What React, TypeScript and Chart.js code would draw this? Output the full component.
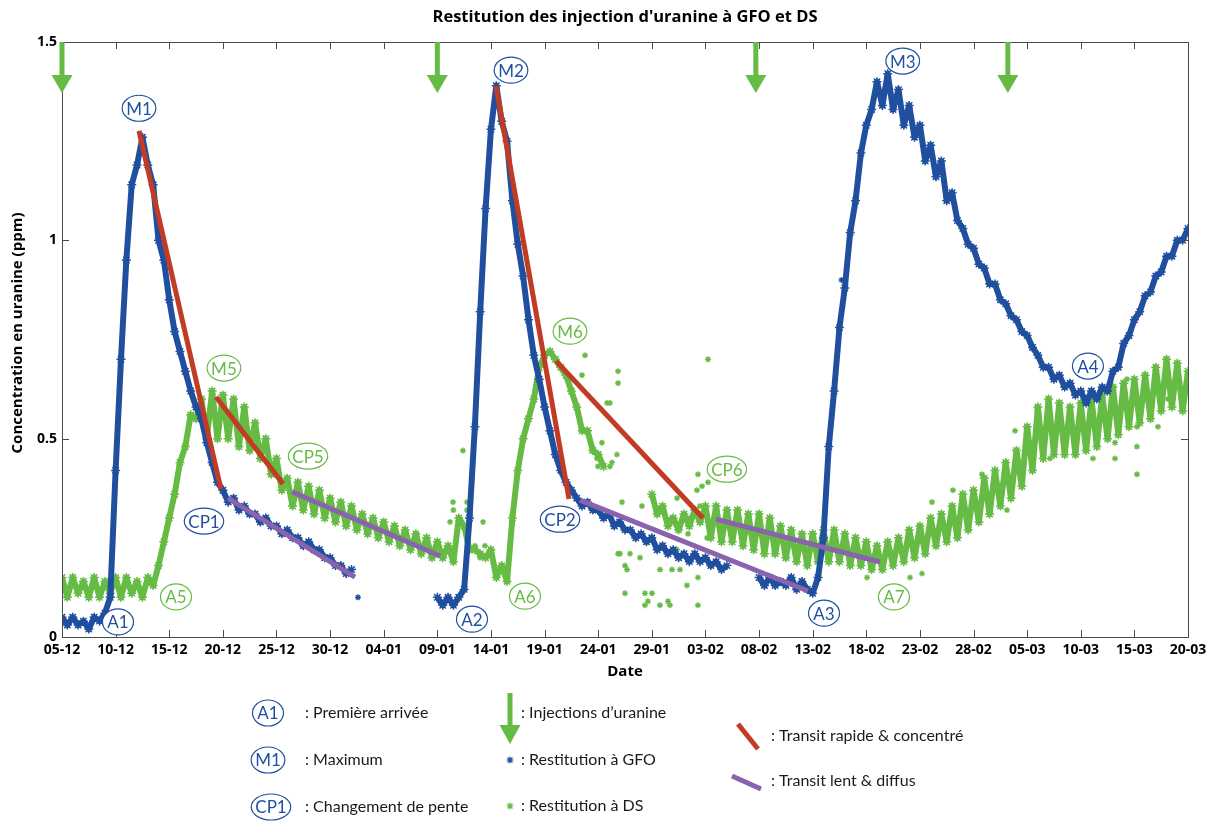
import React, { useEffect, useRef } from 'react';
import { Chart, registerables } from 'chart.js';
Chart.register(...registerables);

// ---------- data ----------
const xTickLabels = ['05-12','10-12','15-12','20-12','25-12','30-12','04-01','09-01','14-01','19-01','24-01','29-01','03-02','08-02','13-02','18-02','23-02','28-02','05-03','10-03','15-03','20-03'];
const yTickLabels = ['0', '0.5', '1', '1.5'];

// GFO readings: value at each day (from 05-12) and half a day later
const gfoDay = [0.05,0.05,0.04,0.05,0.06,0.42,0.95,1.19,1.19,1.00,0.85,0.72,0.62,0.55,0.44,0.37,0.35,0.33,0.31,0.30,0.28,0.27,0.25,0.24,0.22,0.20,0.18,0.17,null,null,null,null,null,null,null,0.10,0.10,0.10,0.30,0.82,1.28,1.30,1.10,0.91,0.71,0.58,0.46,0.39,0.35,0.34,0.32,0.31,0.29,0.27,0.26,0.25,0.23,0.22,0.21,0.21,0.20,0.19,0.18,null,null,0.15,0.15,0.14,0.15,0.14,0.11,0.25,0.62,0.88,1.10,1.29,1.40,1.42,1.38,1.34,1.29,1.24,1.20,1.12,1.03,0.98,0.93,0.89,0.84,0.80,0.76,0.71,0.68,0.66,0.64,0.62,0.62,0.63,0.67,0.74,0.80,0.86,0.91,0.96,1.00,1.03];
const gfoHalf = [0.03,0.03,0.02,0.04,0.10,0.70,1.14,1.26,1.14,0.95,0.77,0.67,0.58,0.49,0.39,0.34,0.32,0.31,0.29,0.28,0.26,0.25,0.23,0.22,0.20,0.18,0.16,null,null,null,null,null,null,null,null,0.08,0.08,0.12,0.53,1.08,1.39,1.25,0.99,0.80,0.65,0.52,0.42,0.37,0.33,0.32,0.30,0.28,0.27,0.25,0.24,0.22,0.21,0.20,0.19,0.19,0.18,0.17,null,null,null,0.13,0.13,0.13,0.12,0.12,0.15,0.48,0.78,1.02,1.22,1.33,1.34,1.33,1.29,1.26,1.20,1.16,1.10,1.05,0.99,0.94,0.89,0.85,0.81,0.77,0.73,0.68,0.65,0.63,0.61,0.59,0.60,0.62,0.68,0.76,0.82,0.87,0.92,0.96,1.00,null];
const gfoStray = [[27.6, 0.10], [72.7, 0.90]];

// DS readings: value at each day and half a day later
const dsDay = [0.15,0.15,0.14,0.15,0.14,0.15,0.15,0.14,0.15,0.18,0.30,0.44,0.56,0.60,0.62,0.61,0.60,0.58,0.54,0.50,0.45,0.40,0.39,0.38,0.37,0.35,0.34,0.33,0.31,0.30,0.29,0.28,0.27,0.26,0.25,0.24,0.23,0.30,0.22,0.21,0.22,0.18,0.30,0.50,0.60,0.71,0.70,0.66,0.58,0.52,0.46,null,null,null,null,0.36,0.33,0.30,0.31,0.32,0.33,0.33,0.32,0.32,0.31,0.31,0.30,0.28,0.27,0.26,0.26,0.27,0.27,0.26,0.25,0.24,0.23,0.24,0.25,0.27,0.28,0.30,0.31,0.33,0.36,0.37,0.40,0.42,0.44,0.47,0.53,0.58,0.60,0.59,0.58,0.59,0.60,0.61,0.63,0.64,0.65,0.66,0.68,0.70,0.69,0.67];
const dsHalf = [0.10,0.11,0.10,0.10,0.11,0.10,0.11,0.10,0.13,0.24,0.36,0.48,0.55,0.50,0.50,0.50,0.48,0.47,0.45,0.41,0.37,0.33,0.32,0.31,0.30,0.29,0.28,0.27,0.26,0.25,0.24,0.23,0.22,0.21,0.20,0.20,0.19,0.28,0.22,0.20,0.15,0.14,0.42,0.55,0.68,0.72,0.68,0.62,0.52,0.47,0.43,null,null,null,null,0.31,0.28,0.27,0.28,0.29,0.25,0.24,0.24,0.23,0.22,0.21,0.21,0.20,0.19,0.18,0.19,0.19,0.19,0.18,0.18,0.17,0.17,0.18,0.19,0.20,0.21,0.23,0.24,0.25,0.27,0.29,0.31,0.33,0.35,0.38,0.42,0.45,0.46,0.46,0.46,0.47,0.48,0.50,0.51,0.53,0.54,0.55,0.57,0.58,0.57,null];
const dsStray = [
  [37.39,0.47],[36.46,0.34],[36.5,0.32],[37.77,0.34],[37.77,0.32],[36.18,0.29],[39.26,0.29],[38.51,0.23],[39.44,0.23],[38.98,0.20],
  [48.77,0.71],[48.49,0.66],[50.82,0.59],[50.35,0.49],[49.42,0.47],[49.89,0.45],[51.29,0.44],[49.98,0.43],[51.85,0.67],[51.85,0.64],
  [51.85,0.21],[51.1,0.59],[51.75,0.46],[51.1,0.43],[52.22,0.34],[54.08,0.33],[52.03,0.21],[52.97,0.21],[53.9,0.20],[52.5,0.18],
  [52.69,0.17],[52.5,0.11],[54.36,0.11],[55.02,0.11],[54.64,0.09],[54.36,0.08],[55.76,0.08],[56.51,0.09],[56.69,0.08],[59.3,0.08],
  [58.28,0.13],[59.3,0.15],[56.88,0.17],[55.76,0.17],[57.63,0.17],[55.95,0.23],[57.35,0.22],[58.37,0.26],[59.3,0.41],[59.21,0.37],
  [59.68,0.38],[60.24,0.39],[60.24,0.70],[59.49,0.33],[57.35,0.35],[56.88,0.30],[58.56,0.30],[60.15,0.25],
  [81.13,0.34],[83.08,0.37],[75.07,0.15],[79.08,0.15],[80.19,0.16],[85.79,0.41],[88.87,0.52],[88.12,0.32],[92.13,0.45],[96.14,0.45],
  [98.19,0.45],[98.19,0.49],[100.24,0.48],[100.24,0.53],[100.24,0.41],[102.2,0.53],[103.13,0.60],[99.31,0.65]
];

// trend segments [day1, value1, day2, value2]
const rapidSegments = [[7.18,1.276,14.82,0.373],[14.36,0.605,20.61,0.386],[40.47,1.389,47.28,0.348],[46.07,0.696,59.77,0.30]];
const slowSegments = [[15.48,0.35,27.32,0.151],[21.45,0.366,35.25,0.204],[48.30,0.345,69.56,0.116],[60.99,0.297,76.28,0.189]];

const injectionDays = [0, 35, 64.7, 88.2];

const markers = [
  { text: 'M1', day: 7.18, value: 1.333, s: 'gfo' },
  { text: 'A1', day: 5.22, value: 0.038, s: 'gfo' },
  { text: 'M5', day: 15.1, value: 0.678, s: 'ds' },
  { text: 'CP1', day: 13.24, value: 0.292, s: 'gfo' },
  { text: 'A5', day: 10.63, value: 0.101, s: 'ds' },
  { text: 'CP5', day: 22.94, value: 0.456, s: 'ds' },
  { text: 'A2', day: 38.23, value: 0.045, s: 'gfo' },
  { text: 'M2', day: 41.87, value: 1.429, s: 'gfo' },
  { text: 'M6', day: 47.37, value: 0.771, s: 'ds' },
  { text: 'CP2', day: 46.44, value: 0.297, s: 'gfo' },
  { text: 'A6', day: 43.17, value: 0.103, s: 'ds' },
  { text: 'CP6', day: 62.0, value: 0.423, s: 'ds' },
  { text: 'A3', day: 71.06, value: 0.06, s: 'gfo' },
  { text: 'M3', day: 78.4, value: 1.452, s: 'gfo' },
  { text: 'A7', day: 77.58, value: 0.101, s: 'ds' },
  { text: 'A4', day: 95.67, value: 0.683, s: 'gfo' },
];

// ---------- styles ----------
const BLUE = '#1f4f9e';
const GREEN = '#66bb44';
const RED = '#c23b24';
const PURPLE = '#8a63ae';
const FRAME = '#4a4a4a';

function zigzag(dayVals: (number | null)[], halfVals: (number | null)[]) {
  const pts: { x: number; y: number | null }[] = [];
  for (let d = 0; d < dayVals.length; d++) {
    pts.push({ x: d, y: dayVals[d] });
    pts.push({ x: d + 0.5, y: halfVals[d] });
  }
  return pts;
}

function drawArrow(ctx: CanvasRenderingContext2D, cx: number, top: number, bottom: number, headLen: number, shaftW: number, headW: number) {
  ctx.save();
  ctx.fillStyle = GREEN;
  ctx.fillRect(cx - shaftW / 2, top, shaftW, bottom - top - headLen + 2);
  ctx.beginPath();
  ctx.moveTo(cx - headW / 2, bottom - headLen);
  ctx.lineTo(cx + headW / 2, bottom - headLen);
  ctx.lineTo(cx, bottom);
  ctx.closePath();
  ctx.fill();
  ctx.restore();
}

function drawBadge(ctx: CanvasRenderingContext2D, text: string, cx: number, cy: number, color: string) {
  ctx.save();
  ctx.font = '17px Lato';
  const w = ctx.measureText(text).width;
  const rx = Math.max(15.5, w / 2 + 4);
  const ry = 13;
  ctx.beginPath();
  ctx.ellipse(cx, cy, rx, ry, 0, 0, Math.PI * 2);
  ctx.fillStyle = '#ffffff';
  ctx.fill();
  ctx.lineWidth = 1.2;
  ctx.strokeStyle = color;
  ctx.stroke();
  ctx.fillStyle = color;
  ctx.textAlign = 'center';
  ctx.textBaseline = 'middle';
  ctx.fillText(text, cx, cy + 1);
  ctx.restore();
}

function drawStar(ctx: CanvasRenderingContext2D, cx: number, cy: number, r: number, color: string) {
  ctx.save();
  ctx.strokeStyle = color;
  ctx.lineWidth = 1.2;
  ctx.beginPath();
  for (let i = 0; i < 4; i++) {
    const a = (i * Math.PI) / 4;
    ctx.moveTo(cx - r * Math.cos(a), cy - r * Math.sin(a));
    ctx.lineTo(cx + r * Math.cos(a), cy + r * Math.sin(a));
  }
  ctx.stroke();
  ctx.restore();
}

const decorPlugin = {
  id: 'decor',
  afterDatasetsDraw(chart: any) {
    const { ctx, chartArea, scales } = chart;
    const xs = scales.x;
    const ys = scales.y;
    const { left, right, top, bottom } = chartArea;
    ctx.save();
    ctx.strokeStyle = FRAME;
    ctx.lineWidth = 1;
    ctx.strokeRect(Math.round(left) + 0.5, Math.round(top) + 0.5, Math.round(right - left), Math.round(bottom - top));
    ctx.beginPath();
    const tl = 7;
    xTickLabels.forEach((_, i) => {
      const px = Math.round(xs.getPixelForValue(i * 5)) + 0.5;
      ctx.moveTo(px, bottom); ctx.lineTo(px, bottom - tl);
      ctx.moveTo(px, top); ctx.lineTo(px, top + tl);
    });
    yTickLabels.forEach((_, i) => {
      const py = Math.round(ys.getPixelForValue(i * 0.5)) + 0.5;
      ctx.moveTo(left, py); ctx.lineTo(left + tl, py);
      ctx.moveTo(right, py); ctx.lineTo(right - tl, py);
    });
    ctx.stroke();
    ctx.restore();
    injectionDays.forEach((d) => {
      drawArrow(ctx, xs.getPixelForValue(d), top, top + 51, 18, 5, 21);
    });
    markers.forEach((m) => {
      drawBadge(ctx, m.text, xs.getPixelForValue(m.day), ys.getPixelForValue(m.value), m.s === 'gfo' ? BLUE : GREEN);
    });
  },
  afterDraw(chart: any) {
    const { ctx, chartArea } = chart;
    const cx = (chartArea.left + chartArea.right) / 2;
    ctx.save();
    ctx.fillStyle = '#000';
    ctx.textAlign = 'center';
    ctx.textBaseline = 'middle';
    ctx.font = 'bold 16.5px "Open Sans"';
    ctx.fillText("Restitution des injection d'uranine à GFO et DS", cx, 17);
    ctx.font = 'bold 15px "Open Sans"';
    ctx.fillText('Date', cx, 672);
    ctx.save();
    ctx.translate(18, 333);
    ctx.rotate(-Math.PI / 2);
    ctx.fillText('Concentration en uranine (ppm)', 0, 0);
    ctx.restore();

    drawBadge(ctx, 'A1', 268, 713, BLUE);
    drawBadge(ctx, 'M1', 268, 760, BLUE);
    drawBadge(ctx, 'CP1', 271, 807, BLUE);
    ctx.textAlign = 'left';
    ctx.textBaseline = 'middle';
    ctx.fillStyle = '#1a1a1a';
    ctx.font = '16px Lato';
    ctx.fillText(': Première arrivée', 305, 713);
    ctx.fillText(': Maximum', 305, 760);
    ctx.fillText(': Changement de pente', 305, 807);

    drawArrow(ctx, 510, 693, 744, 19, 5, 21);
    ctx.fillText(': Injections d\u2019uranine', 521, 713);
    drawStar(ctx, 510, 760, 3.5, BLUE);
    ctx.fillText(': Restitution à GFO', 521, 760);
    drawStar(ctx, 510, 806, 3.5, GREEN);
    ctx.fillText(': Restitution à DS', 521, 806);

    ctx.lineWidth = 5;
    ctx.strokeStyle = RED;
    ctx.beginPath(); ctx.moveTo(738, 724); ctx.lineTo(758, 749); ctx.stroke();
    ctx.strokeStyle = PURPLE;
    ctx.beginPath(); ctx.moveTo(732, 776); ctx.lineTo(761, 789); ctx.stroke();
    ctx.fillText(': Transit rapide & concentré', 771, 736);
    ctx.fillText(': Transit lent & diffus', 771, 781);
    ctx.restore();
  },
};

export default function App() {
  const ref = useRef<HTMLCanvasElement | null>(null);
  useEffect(() => {
    if (!ref.current) return;
    const segDatasets: any[] = [];
    rapidSegments.forEach((s) => segDatasets.push({
      data: [{ x: s[0], y: s[1] }, { x: s[2], y: s[3] }], showLine: true, borderColor: RED, borderWidth: 5,
      pointRadius: 0, order: 0, borderCapStyle: 'butt',
    }));
    slowSegments.forEach((s) => segDatasets.push({
      data: [{ x: s[0], y: s[1] }, { x: s[2], y: s[3] }], showLine: true, borderColor: PURPLE, borderWidth: 5,
      pointRadius: 0, order: 0, borderCapStyle: 'butt',
    }));
    const chart = new Chart(ref.current, {
      type: 'scatter',
      data: {
        datasets: [
          ...segDatasets,
          {
            label: 'Restitution à GFO', data: zigzag(gfoDay, gfoHalf), showLine: true, spanGaps: false,
            borderColor: BLUE, borderWidth: 6, borderJoinStyle: 'round', pointStyle: 'star', pointRadius: 4.5, pointBorderWidth: 1.5,
            pointBorderColor: BLUE, pointBackgroundColor: BLUE, order: 1,
          },
          {
            label: 'GFO isolés', data: gfoStray.map((p) => ({ x: p[0], y: p[1] })), showLine: false,
            pointStyle: 'star', pointRadius: 3, pointBorderWidth: 1.3, pointBorderColor: BLUE, order: 1,
          },
          {
            label: 'Restitution à DS', data: zigzag(dsDay, dsHalf), showLine: true, spanGaps: false,
            borderColor: GREEN, borderWidth: 6, borderJoinStyle: 'round', pointStyle: 'star', pointRadius: 4.5, pointBorderWidth: 1.5,
            pointBorderColor: GREEN, pointBackgroundColor: GREEN, order: 2,
          },
          {
            label: 'DS isolés', data: dsStray.map((p) => ({ x: p[0], y: p[1] })), showLine: false,
            pointStyle: 'star', pointRadius: 3, pointBorderWidth: 1.3, pointBorderColor: GREEN, order: 3,
          },
        ],
      },
      options: {
        animation: false,
        responsive: false,
        events: [],
        layout: { padding: { left: 0, right: 32, top: 42, bottom: 0 } },
        plugins: { legend: { display: false }, tooltip: { enabled: false }, title: { display: false } },
        scales: {
          x: {
            type: 'linear', min: 0, max: 105,
            grid: { display: false, drawTicks: false },
            border: { display: false },
            ticks: {
              stepSize: 5, autoSkip: false, maxRotation: 0, padding: 5, color: '#000',
              font: { family: 'Open Sans', weight: 'bold', size: 14 },
              callback: (v: any) => xTickLabels[Math.round(Number(v) / 5)] ?? '',
            },
            afterFit: (s: any) => { s.height = 184; },
          },
          y: {
            min: 0, max: 1.5,
            grid: { display: false, drawTicks: false },
            border: { display: false },
            ticks: {
              stepSize: 0.5, padding: 5, color: '#000',
              font: { family: 'Open Sans', weight: 'bold', size: 14 },
              callback: (v: any) => yTickLabels[Math.round(Number(v) / 0.5)] ?? '',
            },
            afterFit: (s: any) => { s.width = 62; },
          },
        },
      },
      plugins: [decorPlugin],
    } as any);
    return () => chart.destroy();
  }, []);
  return (
    <div style={{ position: 'absolute', left: 0, top: 0, width: 1220, height: 821, background: '#fff' }}>
      <canvas ref={ref} width={1220} height={821} style={{ width: 1220, height: 821 }} />
    </div>
  );
}
